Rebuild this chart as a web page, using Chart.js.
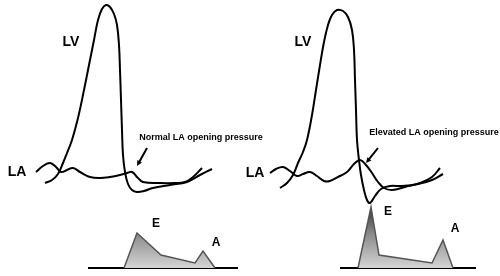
<!DOCTYPE html>
<html><head><meta charset="utf-8">
<script src="https://cdn.jsdelivr.net/npm/chart.js@4/dist/chart.umd.min.js"></script>
<style>html,body{margin:0;padding:0;background:#fff}canvas{display:block}</style>
</head><body>
<canvas id="c" width="500" height="276"></canvas>
<script>
// Values (x: time, y: depth below top, axis reversed)
const lvNormal = [[45,183],[52,180],[58,174],[63,163],[67,153],[72,140],[78,118],[84,90],[89,65],[94,40],[98,20],[102,9],[106,5],[110,7],[114,14],[117,25],[119,45],[120,70],[121,100],[122,130],[123,155],[125,172],[128,184],[132,190],[137,192],[144,191],[153,188],[170,185],[187,182],[200,175],[212,169]];
const laNormal = [[36,172],[43,166],[50,163],[56,167],[61,172],[67,170],[73,168],[80,172],[90,177],[100,178],[110,177],[120,175],[127,173],[132,172],[138,178],[143,182],[160,183],[175,183],[185,182],[193,177],[202,168]];
const lvElevated = [[280,188],[287,183],[293,175],[298,163],[303,152],[307,140],[312,115],[316,90],[320,65],[324,42],[328,25],[332,15],[337,10],[343,11],[348,17],[352,30],[354,50],[355,80],[356,110],[357,140],[359,160],[361,175],[364,190],[367,200],[370,203],[375,196],[381,189],[390,186],[402,186],[418,184],[432,180],[443,174]];
const laElevated = [[270,173],[276,169],[283,167],[290,171],[297,176],[303,174],[310,172],[317,176],[324,181],[330,181],[338,177],[347,172],[354,164],[360,160],[366,165],[372,173],[378,182],[384,188],[392,190],[405,187],[420,183],[432,177],[440,168]];
const dopplerNormal = [[124,268],[137,233],[161,255],[195,263],[203,251],[215,268]];
const dopplerElevated = [[358,268],[371,207],[379,255],[432,263],[443,240],[453,268]];
const baselineNormal = [[88,268],[238,268]];
const baselineElevated = [[340,268],[476,268]];
const labels = [
  {t:'LV', x:71, y:42, size:14},
  {t:'LA', x:17, y:172, size:14},
  {t:'LV', x:303, y:42, size:14},
  {t:'LA', x:255, y:173, size:14},
  {t:'Normal LA opening pressure', x:201, y:138, size:9},
  {t:'Elevated LA opening pressure', x:434, y:133, size:9},
  {t:'E', x:156, y:224, size:12},
  {t:'A', x:216, y:243, size:12},
  {t:'E', x:388, y:212, size:12},
  {t:'A', x:455, y:229, size:12}
];
const arrows = [[[147,148],[137,166]],[[378,148],[366,163]]];

const toPts = a => a.map(p => ({x:p[0], y:p[1]}));
function grad(ctx){
  const ch = ctx.chart; const ys = ch.scales.y;
  if(!ch.chartArea) return '#999';
  const g = ch.ctx.createLinearGradient(0, ys.getPixelForValue(205), 0, ys.getPixelForValue(268));
  g.addColorStop(0,'#2e2e2e'); g.addColorStop(0.45,'#8a8a8a'); g.addColorStop(1,'#d4d4d4');
  return g;
}
const curve = (d) => ({data:toPts(d), showLine:true, borderColor:'#000', borderWidth:2, pointRadius:0, tension:0.4, fill:false});
const dop = (d) => ({data:toPts(d), showLine:true, borderColor:'#555', borderWidth:1.5, pointRadius:0, tension:0, fill:{value:268}, backgroundColor:grad});
const base = (d) => ({data:toPts(d), showLine:true, borderColor:'#000', borderWidth:2, pointRadius:0, tension:0, fill:false});

const textPlugin = {
  id:'txt',
  afterDatasetsDraw(chart){
    const c = chart.ctx, xs = chart.scales.x, ys = chart.scales.y;
    c.save();
    c.fillStyle = '#000'; c.textAlign='center'; c.textBaseline='middle';
    labels.forEach(l => {
      c.font = 'bold ' + l.size + 'px "Liberation Sans", Arial, sans-serif';
      c.fillText(l.t, xs.getPixelForValue(l.x), ys.getPixelForValue(l.y));
    });
    c.strokeStyle='#000'; c.lineWidth=2;
    arrows.forEach(a => {
      const x1=xs.getPixelForValue(a[0][0]), y1=ys.getPixelForValue(a[0][1]);
      const x2=xs.getPixelForValue(a[1][0]), y2=ys.getPixelForValue(a[1][1]);
      const ang=Math.atan2(y2-y1,x2-x1), h=6;
      c.beginPath(); c.moveTo(x1,y1); c.lineTo(x2-Math.cos(ang)*4,y2-Math.sin(ang)*4); c.stroke();
      c.beginPath(); c.moveTo(x2,y2);
      c.lineTo(x2-h*Math.cos(ang-0.45), y2-h*Math.sin(ang-0.45));
      c.lineTo(x2-h*Math.cos(ang+0.45), y2-h*Math.sin(ang+0.45));
      c.closePath(); c.fillStyle='#000'; c.fill();
    });
    c.restore();
  }
};

new Chart(document.getElementById('c'), {
  type:'scatter',
  data:{datasets:[
    dop(dopplerNormal), dop(dopplerElevated),
    base(baselineNormal), base(baselineElevated),
    curve(laNormal), curve(lvNormal), curve(laElevated), curve(lvElevated)
  ]},
  options:{
    responsive:false, animation:false,
    layout:{padding:0},
    plugins:{legend:{display:false}, tooltip:{enabled:false}},
    scales:{
      x:{type:'linear', min:0, max:500, display:false},
      y:{type:'linear', min:0, max:276, reverse:true, display:false}
    }
  },
  plugins:[textPlugin]
});
</script>
</body></html>
